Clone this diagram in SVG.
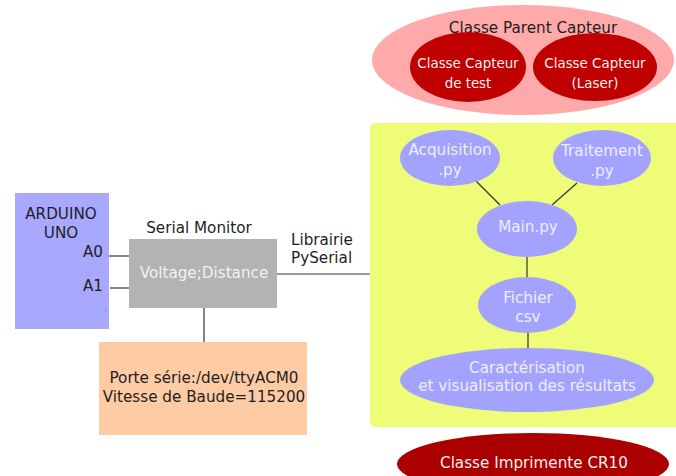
<svg xmlns="http://www.w3.org/2000/svg" width="676" height="476" viewBox="0 0 676 476">
<style>
text{font-family:"DejaVu Sans",Verdana,sans-serif;font-size:15.2px;text-anchor:middle}
.d{fill:#1e1e1e}
.w{fill:#f4f0f0}
.s{font-size:13.4px}
.b{fill:#eeeeff}
.blue{fill:#a3a3ff}
.red{fill:#c00000}
line{stroke:#333;stroke-width:1.2}
</style>
<rect width="676" height="476" fill="#fff"/>
<g id="parent">
<ellipse cx="523" cy="60" rx="151" ry="55" fill="#ffaaaa"/>
<text class="d" x="533" y="33">Classe Parent Capteur</text>
</g>
<g id="capteur-test">
<ellipse cx="468" cy="67" rx="58" ry="35" class="red"/>
<text class="w s" x="468" y="68">Classe Capteur</text>
<text class="w s" x="468" y="88">de test</text>
</g>
<g id="capteur-laser">
<ellipse cx="595" cy="67" rx="62" ry="34" class="red"/>
<text class="w s" x="595" y="68">Classe Capteur</text>
<text class="w s" x="595" y="88">(Laser)</text>
</g>
<g id="python-area">
<rect x="370" y="123" width="320" height="304" rx="5" fill="#eefc78"/>
</g>
<g id="connectors">
<line x1="107" y1="256" x2="134" y2="256"/>
<line x1="110" y1="288" x2="133" y2="288"/>
<line x1="277" y1="274" x2="370" y2="274"/>
<line x1="204" y1="308" x2="204" y2="342"/>
<line x1="476" y1="181" x2="500" y2="205"/>
<line x1="577" y1="183" x2="552" y2="205"/>
<line x1="527" y1="256" x2="527" y2="278"/>
<line x1="528" y1="332" x2="528" y2="349"/>
</g>
<g id="arduino">
<rect x="15" y="193" width="94" height="136" fill="#a8a8ff"/>
<text class="d" x="61" y="219">ARDUINO</text>
<text class="d" x="61" y="238">UNO</text>
<text class="d" x="103" y="257" style="text-anchor:end">A0</text>
<text class="d" x="103" y="291" style="text-anchor:end">A1</text>
<circle cx="106" cy="310" r="0.6" fill="#666"/>
</g>
<g id="serial-monitor">
<text class="d" x="199" y="233">Serial Monitor</text>
<rect x="129" y="239" width="148" height="69" fill="#b3b3b3"/>
<text class="w" x="204" y="278">Voltage;Distance</text>
</g>
<g id="pyserial">
<text class="d" x="291" y="245" style="text-anchor:start">Librairie</text>
<text class="d" x="291" y="263" style="text-anchor:start">PySerial</text>
</g>
<g id="port">
<rect x="99" y="342" width="208" height="93" fill="#ffcba5"/>
<text class="d" x="204" y="383">Porte série:/dev/ttyACM0</text>
<text class="d" x="204" y="402">Vitesse de Baude=115200</text>
</g>
<g id="acquisition">
<ellipse cx="450" cy="158" rx="50" ry="28" class="blue"/>
<text class="b" x="450" y="155">Acquisition</text>
<text class="b" x="450" y="175">.py</text>
</g>
<g id="traitement">
<ellipse cx="602" cy="158" rx="49" ry="28" class="blue"/>
<text class="b" x="602" y="156">Traitement</text>
<text class="b" x="602" y="176">.py</text>
</g>
<g id="main">
<ellipse cx="527" cy="229" rx="50" ry="28" class="blue"/>
<text class="b" x="528" y="232">Main.py</text>
</g>
<g id="fichier">
<ellipse cx="527" cy="305" rx="49" ry="28" class="blue"/>
<text class="b" x="528" y="303">Fichier</text>
<text class="b" x="528" y="322">csv</text>
</g>
<g id="caracterisation">
<ellipse cx="527" cy="380" rx="127" ry="32" class="blue"/>
<text class="b" x="527" y="373">Caractérisation</text>
<text class="b" x="527" y="391">et visualisation des résultats</text>
</g>
<g id="imprimante">
<ellipse cx="533" cy="464" rx="136" ry="31" fill="#aa0000"/>
<text class="w" x="534" y="468">Classe Imprimente CR10</text>
</g>
</svg>
